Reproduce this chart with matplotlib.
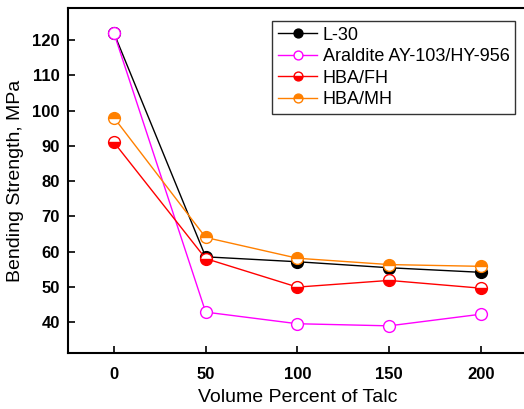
import matplotlib
matplotlib.use("Agg")
import matplotlib.pyplot as plt

plt.rcParams['font.family'] = ['Liberation Sans', 'DejaVu Sans']

talc = [0, 50, 100, 150, 200]
l30 = [122, 58.5, 57.1, 55.4, 54.1]
araldite = [122, 42.8, 39.5, 38.9, 42.2]
hba_fh = [91, 58.0, 49.9, 51.8, 49.6]
hba_mh = [98, 64.0, 58.1, 56.3, 55.8]

fig = plt.figure(figsize=(5.24, 4.09), dpi=100)
ax = fig.add_axes([0.130, 0.137, 0.875, 0.843])

ms = 8.5
ax.plot(talc, l30, color='black', lw=1, marker='o', ms=ms,
        mfc='black', mec='black', label='L-30', zorder=3)
ax.plot(talc, araldite, color='#FF00FF', lw=1, marker='o', ms=ms,
        mfc='white', mec='#FF00FF', label='Araldite AY-103/HY-956', zorder=3)
ax.plot(talc, hba_fh, color='#FF0000', lw=1, marker='o', ms=ms,
        fillstyle='bottom', mfc='#FF0000', mfcalt='white', mec='#FF0000',
        label='HBA/FH', zorder=3)
ax.plot(talc, hba_mh, color='#FF8000', lw=1, marker='o', ms=ms,
        fillstyle='top', mfc='#FF8000', mfcalt='white', mec='#FF8000',
        label='HBA/MH', zorder=3)

ax.set_xlim(-25, 225)
ax.set_ylim(31.2, 129.1)
ax.set_xticks(talc)
ax.set_yticks([40, 50, 60, 70, 80, 90, 100, 110, 120])
ax.tick_params(direction='in', length=5, width=1.2, labelsize=12, pad=6)
for lab in ax.get_xticklabels() + ax.get_yticklabels():
    lab.set_fontweight('bold')
ax.tick_params(axis='x', pad=10)
for s in ax.spines.values():
    s.set_linewidth(1.5)

ax.set_xlabel('Volume Percent of Talc', fontsize=14, labelpad=5)
ax.set_ylabel('Bending Strength, MPa', fontsize=14, labelpad=6)

leg = ax.legend(loc='upper right', bbox_to_anchor=(0.975, 0.962), fontsize=13,
                frameon=True, fancybox=False, edgecolor='black',
                handlelength=2.2, handletextpad=0.3, labelspacing=0.25,
                borderpad=0.3, borderaxespad=0, markerscale=0.75)
leg.get_frame().set_linewidth(1.0)

fig.savefig('out.png', dpi=100)
